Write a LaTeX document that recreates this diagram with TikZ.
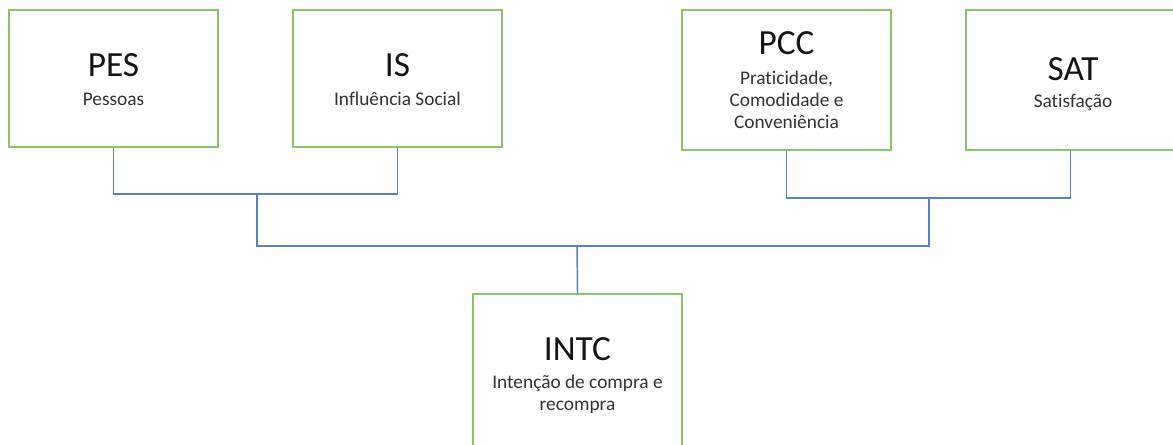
\documentclass[tikz,border=0pt]{standalone}
\usepackage{fontspec}
\setmainfont{Carlito}[Ligatures=NoCommon]
\definecolor{boxgreen}{RGB}{140,196,104}
\definecolor{linkblue}{RGB}{84,130,206}
\definecolor{subgray}{RGB}{50,50,50}
\tikzset{
  factor/.style={draw=boxgreen, line width=1.5pt, fill=white, inner sep=0pt,
    minimum width=156.75pt},
  tall/.style={minimum height=105pt},
  short/.style={minimum height=102.75pt},
  title/.style={anchor=base, inner sep=0pt, text=black!92,
    font=\fontsize{26.5}{30}\selectfont},
  sub/.style={anchor=base, inner sep=0pt, text=subgray, align=center,
    font=\fontsize{14.5}{16.5}\selectfont},
  link/.style={draw=linkblue, line width=1.1pt}
}
\begin{document}
\begin{tikzpicture}[x=0.75pt, y=-0.75pt]
  \useasboundingbox (0,0) rectangle (1173,445);
  \fill[white] (0,0) rectangle (1173,445);
  \clip (0,0) rectangle (1173,445);

  % factor boxes
  \node[factor, short] (pes)  at (113.5,78.5) {};
  \node[factor, short] (is)   at (397.5,78.5) {};
  \node[factor, tall]  (pcc)  at (786.5,80)   {};
  \node[factor, tall]  (sat)  at (1070.5,80)  {};
  \node[factor, minimum height=135pt] (intc) at (577.5,384) {};

  % labels (multi-line labels sit on the baseline of their last line)
  \node[title] (pesT)  at (113.5,77)  {PES};
  \node[sub]   (pesS)  at (113.5,106) {Pessoas};
  \node[title] (isT)   at (397.5,77)  {IS};
  \node[sub]   (isS)   at (397.5,106) {Influência Social};
  \node[title] (pccT)  at (786.5,55)  {PCC};
  \node[sub]   (pccS)  at (786.5,129) {Praticidade,\\Comodidade e\\Conveniência};
  \node[title] (satT)  at (1073,81)   {SAT};
  \node[sub]   (satS)  at (1073,108)  {Satisfação};
  \node[title] (intcT) at (577.5,360) {INTC};
  \node[sub]   (intcS) at (577.5,410) {Intenção de compra e\\recompra};

  % junction points of the tree
  \coordinate (leftbar)  at (257,194);
  \coordinate (rightbar) at (929,198);
  \coordinate (mainbar)  at (577,246);

  % connectors
  \draw[link] (pes.south) |- (leftbar) -| (is.south);
  \draw[link] (pcc.south) |- (rightbar) -| (sat.south);
  \draw[link] (leftbar) |- (mainbar) -| (rightbar);
  \draw[link] (mainbar) -- (intc.north);
\end{tikzpicture}
\end{document}
